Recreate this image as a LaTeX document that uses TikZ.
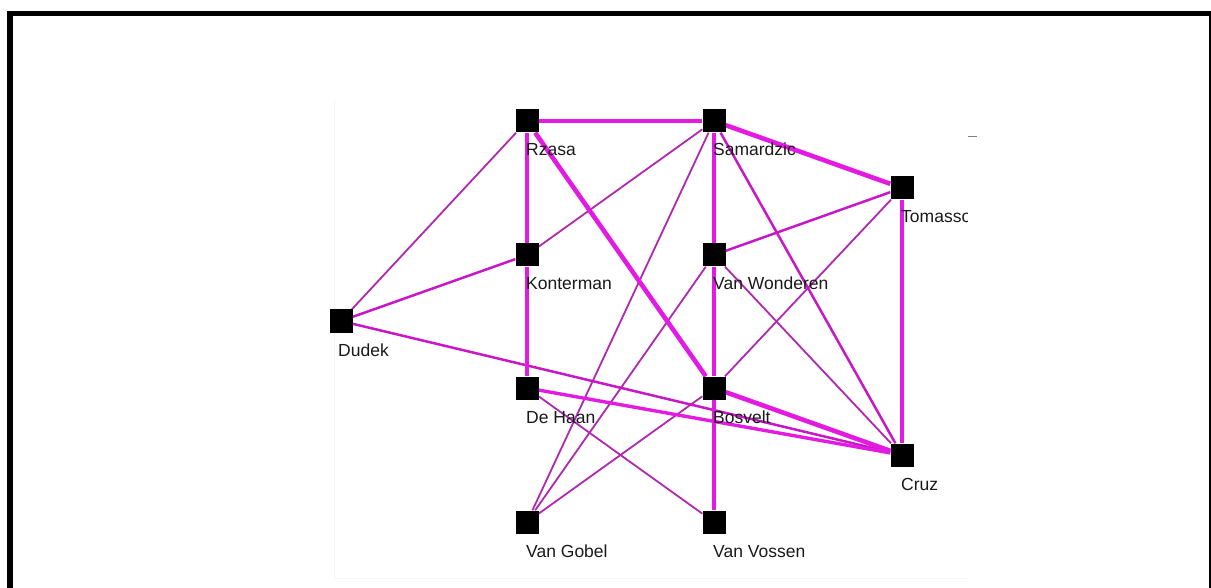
\documentclass[tikz,border=0pt]{standalone}
\usepackage{fontspec}
\setmainfont{Liberation Sans}
\usetikzlibrary{backgrounds}
\definecolor{tie}{RGB}{226,26,226}
\definecolor{tiethin}{RGB}{176,40,176}
\begin{document}
\begin{tikzpicture}[x=1pt,y=-1pt,
  actor/.style={rectangle,fill=black,inner sep=0pt,minimum size=23pt},
  tag/.style={anchor=base west,inner sep=0pt,font=\fontsize{17.5}{19}\selectfont,text=black!90},
  w1/.style={draw=tiethin,line width=1.8pt},
  w2/.style={draw=tie!88!black,line width=2.5pt},
  w3/.style={draw=tie,line width=3.4pt},
  w4/.style={draw=tie,line width=4.6pt}]
\useasboundingbox (0,0) rectangle (1211,588);
\clip (0,0) rectangle (1211,588);

% outer frame (bottom edge runs off the page)
\draw[line width=5.5pt] (10,600) -- (10,13.5) -- (1212,13.5) -- (1212,600);
% faint panel behind the network
\draw[black!4,line width=1pt] (334,100) -- (334,578) -- (968,578);
\draw[gray,line width=1pt] (968,137) -- (977,137);

% actors
\node[actor] (Rzasa)  at (527,121) {};
\node[actor] (Samar)  at (714,121) {};
\node[actor] (Tomas)  at (902,188) {};
\node[actor] (Konter) at (527,255) {};
\node[actor] (VWond)  at (714,255) {};
\node[actor] (Dudek)  at (341,321) {};
\node[actor] (DeHaan) at (527,388) {};
\node[actor] (Bosv)   at (714,388) {};
\node[actor] (Cruz)   at (902,455) {};
\node[actor] (VGobel) at (527,522) {};
\node[actor] (VVoss)  at (714,522) {};

% ties
\begin{pgfonlayer}{background}
\draw[w1] (Dudek) -- (Rzasa);
\draw[w1] (Samar) -- (Konter);
\draw[w1] (Samar) -- (VGobel);
\draw[w1] (VWond) -- (VGobel);
\draw[w1] (VWond) -- (Cruz);
\draw[w1] (Tomas) -- (Bosv);
\draw[w1] (Bosv) -- (VGobel);
\draw[w1] (DeHaan) -- (VVoss);
\draw[w2] (Dudek) -- (Cruz);
\draw[w2] (Dudek) -- (Konter);
\draw[w2] (Samar) -- (Cruz);
\draw[w2] (Tomas) -- (VWond);
\draw[w3] (DeHaan) -- (Cruz);
\draw[w3] (Rzasa) -- (Konter);
\draw[w3] (Konter) -- (DeHaan);
\draw[w3] (Samar) -- (VWond);
\draw[w3] (VWond) -- (Bosv);
\draw[w3] (Bosv) -- (VVoss);
\draw[w3] (Tomas) -- (Cruz);
\draw[w4] (Bosv) -- (Cruz);
\draw[w4] (Rzasa) -- (Samar);
\draw[w4] (Rzasa) -- (Bosv);
\draw[w4] (Samar) -- (Tomas);
\end{pgfonlayer}

% names
\node[tag] (lRzasa)  at (526,156) {Rzasa};
\node[tag] (lSamar)  at (713,156) {Samardzic};
\node[tag] (lKonter) at (526,290) {Konterman};
\node[tag] (lVWond)  at (713,290) {Van Wonderen};
\node[tag] (lDudek)  at (338,356) {Dudek};
\node[tag] (lDeHaan) at (526,423) {De Haan};
\node[tag] (lBosv)   at (713,423) {Bosvelt};
\node[tag] (lCruz)   at (901,490) {Cruz};
\node[tag] (lVGobel) at (526,557) {Van Gobel};
\node[tag] (lVVoss)  at (713,557) {Van Vossen};
\begin{scope}
\clip (0,0) rectangle (967,588);
\node[tag] (lTomas) at (901,223) {Tomasso};
\end{scope}
\end{tikzpicture}
\end{document}
